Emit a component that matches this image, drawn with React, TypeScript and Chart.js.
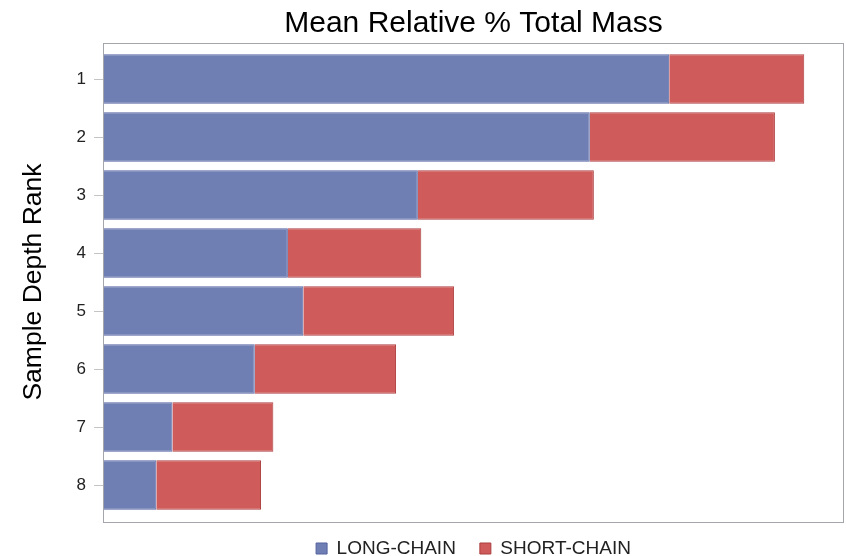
import React, { useEffect, useRef } from "react";
import { Chart, registerables } from "chart.js";

Chart.register(...registerables);

const categories = ["1", "2", "3", "4", "5", "6", "7", "8"];
const longChain = [17.95, 15.43, 9.98, 5.86, 6.35, 4.81, 2.2, 1.69];
const shortChain = [4.28, 5.87, 5.58, 4.23, 4.78, 4.48, 3.2, 3.32];
const seriesNames = ["LONG-CHAIN", "SHORT-CHAIN"];
const titleText = "Mean Relative % Total Mass";
const yTitleText = "Sample Depth Rank";

const FONT = "'Liberation Sans', Arial, sans-serif";

const framePlugin = {
  id: "frame",
  afterDatasetsDraw(chart: any) {
    const { ctx, chartArea } = chart;
    const ext = 7.5;
    ctx.save();
    ctx.strokeStyle = "#a3a7ab";
    ctx.lineWidth = 1;
    ctx.strokeRect(
      Math.round(chartArea.left) + 0.5,
      Math.round(chartArea.top - ext) + 0.5,
      Math.round(chartArea.right - chartArea.left) - 1,
      Math.round(chartArea.bottom - chartArea.top + 2 * ext)
    );
    ctx.restore();
  },
};

export default function App() {
  const ref = useRef<HTMLCanvasElement>(null);
  useEffect(() => {
    if (!ref.current) return;
    const chart = new Chart(ref.current, {
      type: "bar",
      data: {
        labels: categories,
        datasets: [
          {
            label: seriesNames[0],
            data: longChain,
            backgroundColor: "rgb(111,127,179)",
            borderColor: "rgb(84,99,160)",
            borderWidth: 1,
            categoryPercentage: 1,
            barPercentage: 0.852,
          },
          {
            label: seriesNames[1],
            data: shortChain,
            backgroundColor: "rgb(208,91,91)",
            borderColor: "rgb(172,62,62)",
            borderWidth: 1,
            categoryPercentage: 1,
            barPercentage: 0.852,
          },
        ],
      },
      options: {
        indexAxis: "y",
        responsive: false,
        animation: false,
        layout: { padding: { top: 0, right: 2, bottom: -12, left: 0 } },
        scales: {
          x: {
            stacked: true,
            min: 0,
            max: 23.49,
            display: true,
            ticks: { display: false },
            grid: { display: false },
            border: { display: false },
            afterFit(scale: any) {
              scale.height = 1;
            },
          },
          y: {
            stacked: true,
            grid: {
              offset: false,
              drawOnChartArea: false,
              drawTicks: true,
              tickLength: 9,
              color: "#c4c4c4",
            },
            border: { display: false },
            ticks: {
              font: { family: FONT, size: 17 },
              color: "#222",
              padding: 8,
            },
            title: {
              display: true,
              text: yTitleText,
              font: { family: FONT, size: 26.5 },
              color: "#000",
              padding: { top: 17.5, bottom: 0 },
            },
            afterFit(scale: any) {
              scale.width = 103;
            },
          },
        },
        plugins: {
          title: {
            display: true,
            fullSize: false,
            text: titleText,
            font: { family: FONT, size: 30, weight: "normal" },
            color: "#000",
            padding: { top: 5.7, bottom: 8.3 },
          },
          legend: {
            position: "bottom",
            fullSize: false,
            labels: {
              font: { family: FONT, size: 19 },
              color: "#222",
              boxWidth: 11,
              boxHeight: 11,
              padding: 24,
            },
          },
          tooltip: { enabled: false },
        },
      },
      plugins: [framePlugin],
    });
    return () => chart.destroy();
  }, []);
  return (
    <div style={{ position: "absolute", left: 0, top: 0, width: 846, height: 556, background: "#fff" }}>
      <canvas ref={ref} width={846} height={556} />
    </div>
  );
}
